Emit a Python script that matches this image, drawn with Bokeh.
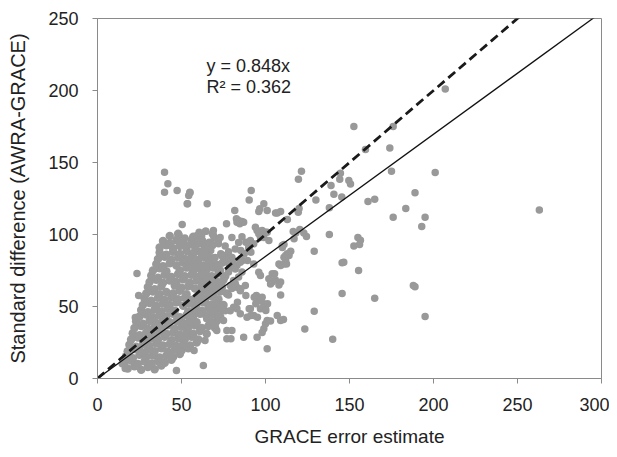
from bokeh.plotting import figure
from bokeh.embed import file_html
from bokeh.resources import INLINE
from bokeh.core.properties import value

# ---- data ----
x_ticks = [0, 50, 100, 150, 200, 250, 300]
y_ticks = [0, 50, 100, 150, 200, 250]

fit_slope = 0.848
fit_r2 = 0.362
one_to_one_slope = 1.0
line_x = [0, 300]

annotation_text = ["y = 0.848x", "R\u00b2 = 0.362"]
annotation_x = [64.9, 64.9]
annotation_y = [216.7, 202.3]

# sparse points around and above the main cloud
outer_points = [
    (207, 201), (176, 175), (152.6, 175), (174, 160), (159.5, 159),
    (175, 144), (201, 143), (121.4, 144), (144.6, 142.6),
    (119.6, 138.4), (144.2, 138.4), (149.6, 137.5), (150.6, 135), (139, 134),
    (189, 129), (140.7, 128), (145.4, 126), (130, 124), (161, 123), (165, 124.5),
    (183.5, 118), (176, 112), (195, 112), (193, 105.5), (263, 117),
    (138, 118.5), (107, 115), (109, 116), (120, 118), (119.5, 115.5), (113, 110.4),
    (116.5, 102), (120.4, 103.5), (122.8, 101), (124.4, 98.6), (138, 100),
    (155, 98), (156.5, 96), (156, 93), (152.6, 92),
    (129, 88.4), (145.6, 80.3), (146.6, 80.8), (155.4, 75),
    (145.6, 59), (165, 55.8), (109, 58), (129, 46.7), (110.7, 41),
    (123.4, 34.3), (140, 27.3), (103, 40),
    (188, 64.5), (189, 63.7), (195, 43),
    (110, 92.4), (115, 88.4), (113, 86.6), (112, 85.4), (111, 84.2),
    (108, 79.6), (109, 78.5), (112.5, 79.6), (105.4, 72.7), (105.8, 68.5), (104, 67),
    (117, 97), (118, 101),
    (91.5, 130.5), (90.3, 124), (65.3, 121.3), (81.7, 116.7), (99, 121.3),
    (96.6, 117.8), (101, 116.7), (96, 116), (106, 115),
    (82.7, 111), (84, 109.7), (86, 109), (84.7, 107.4), (83, 108.5), (76.8, 107.4), (87, 108.5),
    (69, 102.8), (69, 99.3), (68, 93.5), (73, 98), (72, 93.5),
    (94, 105), (95, 102.8), (96, 100.5), (97, 98), (101, 101.6), (99, 98),
    (91, 95.8), (93, 93.5), (90, 91), (102, 95.8), (98, 102.8), (100, 101.6),
    (88.3, 94.6), (90.3, 91.2), (91.3, 87.7), (85.3, 88.9), (87.3, 86.6), (86.3, 82), (89.3, 82),
    (111, 93), (110, 91), (114, 85.4), (112, 82), (111, 79.6),
    (73.6, 86), (76, 85.4), (77, 83), (79, 82), (81, 79.6), (83, 78.5),
    (80, 84.2), (79, 77.3), (85, 80.8), (87, 86.6),
    (93, 79.6), (96, 73.8), (97, 71.5), (104, 72.7), (102, 69.2), (103, 65.7), (109, 67), (108, 65),
    (61, 77.3), (63, 72.7), (65, 70.3), (62, 65.7), (66, 64.6), (70, 68), (73, 67), (68, 61),
    (81, 68), (79, 64.6), (83, 63.4), (85, 61), (88, 64.6),
    (94.6, 57.6), (96, 54), (98, 56.5), (99, 51.9), (97, 48.4), (100, 48.4),
    (91, 48.4), (93, 43.8), (89, 42.6),
    (101, 40.3), (100, 38), (99, 34.5), (98, 32), (87, 28.7), (95, 28.7), (101, 20.6),
    (75, 40.3), (71, 33.3), (77, 33.3), (80, 33.3), (77, 27.6), (79.4, 27.6),
    (64, 26.4), (63, 9), (57.5, 19.4),
    (81, 49.5), (83, 48.4), (85, 45), (79, 47), (76, 47), (73, 49.5), (69, 51.9), (67, 47),
    (62, 54), (63, 45), (65, 41.5), (68, 39), (70, 36.8), (107, 43.8), (109, 40.3),
    (85.3, 62.3), (88.3, 57.6), (83.3, 53), (90.3, 48.4), (93.3, 56.5), (97.2, 54.2),
    (94.2, 51.9), (101.2, 51.9), (100.2, 47.2), (95.2, 42.6), (91.3, 43.8),
    (55, 129), (53.6, 121.3),
    (60.5, 101.6), (64.5, 102.3), (59.5, 98), (62.5, 95.8), (60.5, 93.5), (63.5, 93.5), (66.5, 94.6),
    (68.5, 100.5), (69.4, 98), (68.5, 92.4), (67.4, 88.9), (59, 88.9),
    (73.4, 86.6), (74.4, 84.7), (76.4, 83), (78.4, 84.2), (80.4, 82), (78.4, 79.6), (81.4, 78.5),
    (53.6, 82), (55.5, 83), (57.5, 79.6), (56.5, 77.3), (67.4, 82), (69, 77.3), (71.4, 78.5),
    (39.9, 143.3), (41.9, 135.2), (39.9, 129.4), (47.4, 130.5), (55, 129.4), (54.3, 127), (53.4, 121.3),
    (50.4, 107), (48.6, 99.3), (47.6, 97), (49.6, 94.6),
    (23.5, 73), (24.5, 57.6), (22.5, 42.3), (47, 5.5), (16.5, 7), (14.7, 10.2),
    (59.3, 99.3), (64.3, 102.3), (68.3, 100.5), (60.3, 94.6),
    (62, 57), (66, 58.5), (70, 62), (74, 66), (78, 58), (80, 62.5), (82, 66), (84, 70.5),
    (86, 74), (78, 74), (82, 76), (74, 80), (78, 88), (82, 90), (84, 94.5), (76, 92),
    (72, 96), (80, 98), (86, 98.5), (62, 72), (66, 80), (70, 84), (62, 86),
    (66, 90), (58, 90.5), (55, 93), (52, 97.5), (62, 99),
]

# dense core of the cloud (read band by band)
core_points = [
    (18, 7), (22, 8.5), (26, 6), (30, 8), (34, 6.5), (38, 9),
    (16, 11), (20, 12.5), (24, 10), (28, 12), (32, 10.5), (36, 12), (40, 11), (44, 13),
    (17, 15.5), (21, 14), (25, 16.5), (29, 15), (33, 16), (37, 14.5), (41, 16), (45, 15), (49, 17),
    (18, 19), (22, 20.5), (26, 18.5), (30, 20), (34, 19), (38, 21), (42, 18.5), (46, 20), (50, 19.5), (54, 21),
    (19, 23.5), (23, 22), (27, 24), (31, 22.5), (35, 24.5), (39, 23), (43, 24), (47, 22.5), (51, 24), (55, 23), (59, 25),
    (20, 27), (24, 28.5), (28, 26.5), (32, 28), (36, 27), (40, 29), (44, 26.5), (48, 28), (52, 27.5), (56, 29), (60, 27),
    (21, 31.5), (25, 30), (29, 32), (33, 30.5), (37, 32.5), (41, 31), (45, 32), (49, 30.5), (53, 32), (57, 31), (61, 33), (65, 31),
    (22, 35), (26, 36.5), (30, 34.5), (34, 36), (38, 35), (42, 37), (46, 34.5), (50, 36), (54, 35.5), (58, 37), (62, 35), (66, 36.5), (70, 35),
    (23, 39.5), (27, 38), (31, 40), (35, 38.5), (39, 40.5), (43, 39), (47, 40), (51, 38.5), (55, 40), (59, 39), (67, 39.5), (71, 40),
    (25, 43), (29, 44.5), (33, 42.5), (37, 44), (41, 43), (45, 45), (49, 42.5), (53, 44), (57, 43.5), (61, 45), (65, 43), (69, 44.5), (73, 43),
    (26, 47.5), (30, 46), (34, 48), (38, 46.5), (42, 48.5), (46, 47), (54, 46.5), (58, 48), (62, 47), (66, 49), (70, 47), (74, 48),
    (27, 51), (31, 52.5), (35, 50.5), (39, 52), (43, 51), (47, 53), (51, 50.5), (55, 52), (59, 51.5), (63, 53), (67, 51), (71, 52.5), (75, 51),
    (28, 55.5), (32, 54), (36, 56), (40, 54.5), (44, 56.5), (48, 55), (52, 56), (56, 54.5), (60, 56), (64, 55), (68, 57), (72, 55),
    (29, 59), (33, 60.5), (37, 58.5), (41, 60), (45, 59), (49, 61), (53, 58.5), (61, 59.5), (65, 61), (69, 59), (73, 60.5), (77, 59),
    (30, 63.5), (34, 62), (38, 64), (46, 64.5), (50, 63), (54, 64), (58, 62.5), (62, 64), (66, 63), (70, 65), (74, 63),
    (31, 67), (35, 68.5), (39, 66.5), (43, 68), (47, 67), (51, 69), (55, 66.5), (59, 68), (63, 67.5), (67, 69), (71, 67), (75, 68.5),
    (32, 71.5), (36, 70), (40, 72), (44, 70.5), (48, 72.5), (52, 71), (56, 72), (60, 70.5), (64, 72), (68, 71), (72, 73), (76, 71),
    (33, 75), (37, 76.5), (41, 74.5), (49, 75), (53, 77), (57, 74.5), (61, 76), (65, 75.5), (69, 77), (73, 75),
    (35, 79.5), (39, 78), (43, 80), (47, 78.5), (51, 80.5), (55, 79), (59, 80), (63, 78.5), (67, 80), (71, 79), (75, 81),
    (36, 83), (40, 84.5), (44, 82.5), (48, 84), (52, 83), (56, 85), (60, 82.5), (64, 84), (68, 83.5),
    (37, 87.5), (41, 86), (45, 88), (49, 86.5), (53, 88.5), (57, 87), (61, 88), (65, 86.5),
    (37, 91), (41, 92.5), (45, 90.5), (49, 92), (53, 91), (57, 93), (64, 91),
    (39, 95.5), (43, 94), (47, 96), (51, 94.5), (56, 96),
    (43, 99), (48, 100.5), (57, 98.5),
]

# ---- figure ----
FONT = "Liberation Sans"
TEXT_COLOR = "#222222"
AXIS_COLOR = "#8a8a8a"
DOT_COLOR = "#999999"

p = figure(width=609, height=453, x_range=(0, 300), y_range=(0, 250),
           output_backend="svg", toolbar_location=None,
           min_border_left=97, min_border_right=8, min_border_top=18, min_border_bottom=75)
p.background_fill_color = "white"
p.border_fill_color = "white"
p.outline_line_color = AXIS_COLOR
p.outline_line_width = 1
p.xgrid.visible = False
p.ygrid.visible = False

p.scatter([pt[0] for pt in core_points], [pt[1] for pt in core_points],
          size=8.5, fill_color=DOT_COLOR, line_color=None)
p.scatter([pt[0] for pt in outer_points], [pt[1] for pt in outer_points],
          size=7.5, fill_color=DOT_COLOR, line_color=None)

# trend line y = 0.848x and 1:1 line
p.line(line_x, [fit_slope * v for v in line_x], line_color="#111111", line_width=1.3)
p.line(line_x, [one_to_one_slope * v for v in line_x], line_color="#1a1a1a",
       line_width=2.8, line_dash="9 5")

p.text(annotation_x, annotation_y, text=annotation_text,
       text_font=value(FONT), text_font_size="18px", text_color=TEXT_COLOR,
       text_baseline="alphabetic", text_align="left")

for ax in (p.xaxis[0], p.yaxis[0]):
    ax.axis_line_color = AXIS_COLOR
    ax.major_tick_line_color = AXIS_COLOR
    ax.minor_tick_line_color = None
    ax.major_tick_out = 5
    ax.major_tick_in = 0
    ax.major_label_text_font = FONT
    ax.major_label_text_font_size = "18px"
    ax.major_label_text_color = TEXT_COLOR
    ax.axis_label_text_font = FONT
    ax.axis_label_text_font_style = "normal"
    ax.axis_label_text_color = TEXT_COLOR

p.xaxis.axis_label_text_font_size = "19px"
p.yaxis.axis_label_text_font_size = "20px"
p.xaxis.ticker = x_ticks
p.yaxis.ticker = y_ticks
p.xaxis.axis_label = "GRACE error estimate"
p.yaxis.axis_label = "Standard difference (AWRA-GRACE)"
p.xaxis.major_label_standoff = 14
p.yaxis.major_label_standoff = 14
p.xaxis.axis_label_standoff = 12
p.yaxis.axis_label_standoff = 16

open("out.html", "w").write(file_html(p, INLINE))
